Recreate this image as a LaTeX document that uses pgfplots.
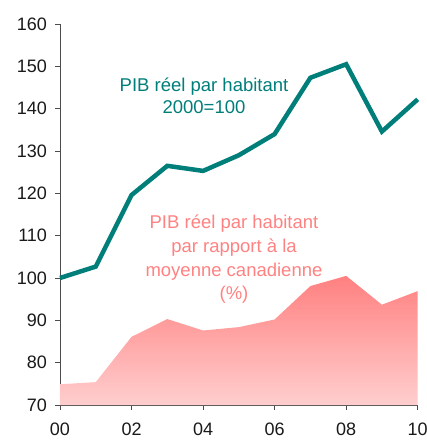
\documentclass[border=0pt]{standalone}
\usepackage{fontspec}
\setmainfont{Liberation Sans}
\usepackage{pgfplots}
\pgfplotsset{compat=1.18}
\definecolor{teal1}{RGB}{0,126,122}
\definecolor{pinktop}{RGB}{255,128,128}
\definecolor{pinkbot}{RGB}{255,206,206}
\definecolor{pinktext}{RGB}{255,130,130}
\begin{document}
\begin{tikzpicture}[x=1pt,y=1pt]
\begin{axis}[
  at={(0,0)}, anchor=origin,
  scale only axis, width=357.7pt, height=381pt,
  xmin=0, xmax=10, ymin=70, ymax=160,
  axis lines=left, axis line style={-, line width=0.8pt, color=black!70},
  xtick={0,2,4,6,8,10},
  xticklabels={00,02,04,06,08,10},
  ytick={70,80,...,160},
  tick align=outside, major tick length=5pt,
  tick style={line width=0.8pt, color=black!70},
  tick label style={font=\fontsize{18}{20}\selectfont, text=black!90},
  /pgf/number format/assume math mode=true,
  xticklabel style={anchor=base, yshift=-25.5pt},
  yticklabel style={xshift=-4.5pt},
  clip=false,
]
\addplot[draw=none, top color=pinktop, bottom color=pinkbot] coordinates {
  (0,74.9) (1,75.4) (2,86.1) (3,90.3) (4,87.6) (5,88.4) (6,90.2) (7,98.1) (8,100.5) (9,93.7) (10,96.9) (10,70) (0,70)
} -- cycle;
\addplot[teal1, line width=4.5pt, line join=miter, mark=none] coordinates {
  (0,100) (1,102.7) (2,119.6) (3,126.5) (4,125.3) (5,129.0) (6,134.0) (7,147.3) (8,150.5) (9,134.6) (10,142.2)
};
\begin{scope}[every node/.style={anchor=base, inner sep=0pt, font=\fontsize{18.5}{22}\selectfont}]
\node[text=teal1] at (axis cs:4.026,144.01) {PIB réel par habitant};
\node[text=teal1] at (axis cs:4.026,138.9) {2000=100};
\node[text=pinktext] at (axis cs:4.864,111.81) {PIB réel par habitant};
\node[text=pinktext] at (axis cs:4.864,106.02) {par rapport à la};
\node[text=pinktext] at (axis cs:4.864,100.35) {moyenne canadienne};
\node[text=pinktext] at (axis cs:4.864,94.92) {(\%)};
\end{scope}
\end{axis}
\pgfresetboundingbox
\path[use as bounding box] (-60,-35) rectangle (367,405);
\end{tikzpicture}
\end{document}
